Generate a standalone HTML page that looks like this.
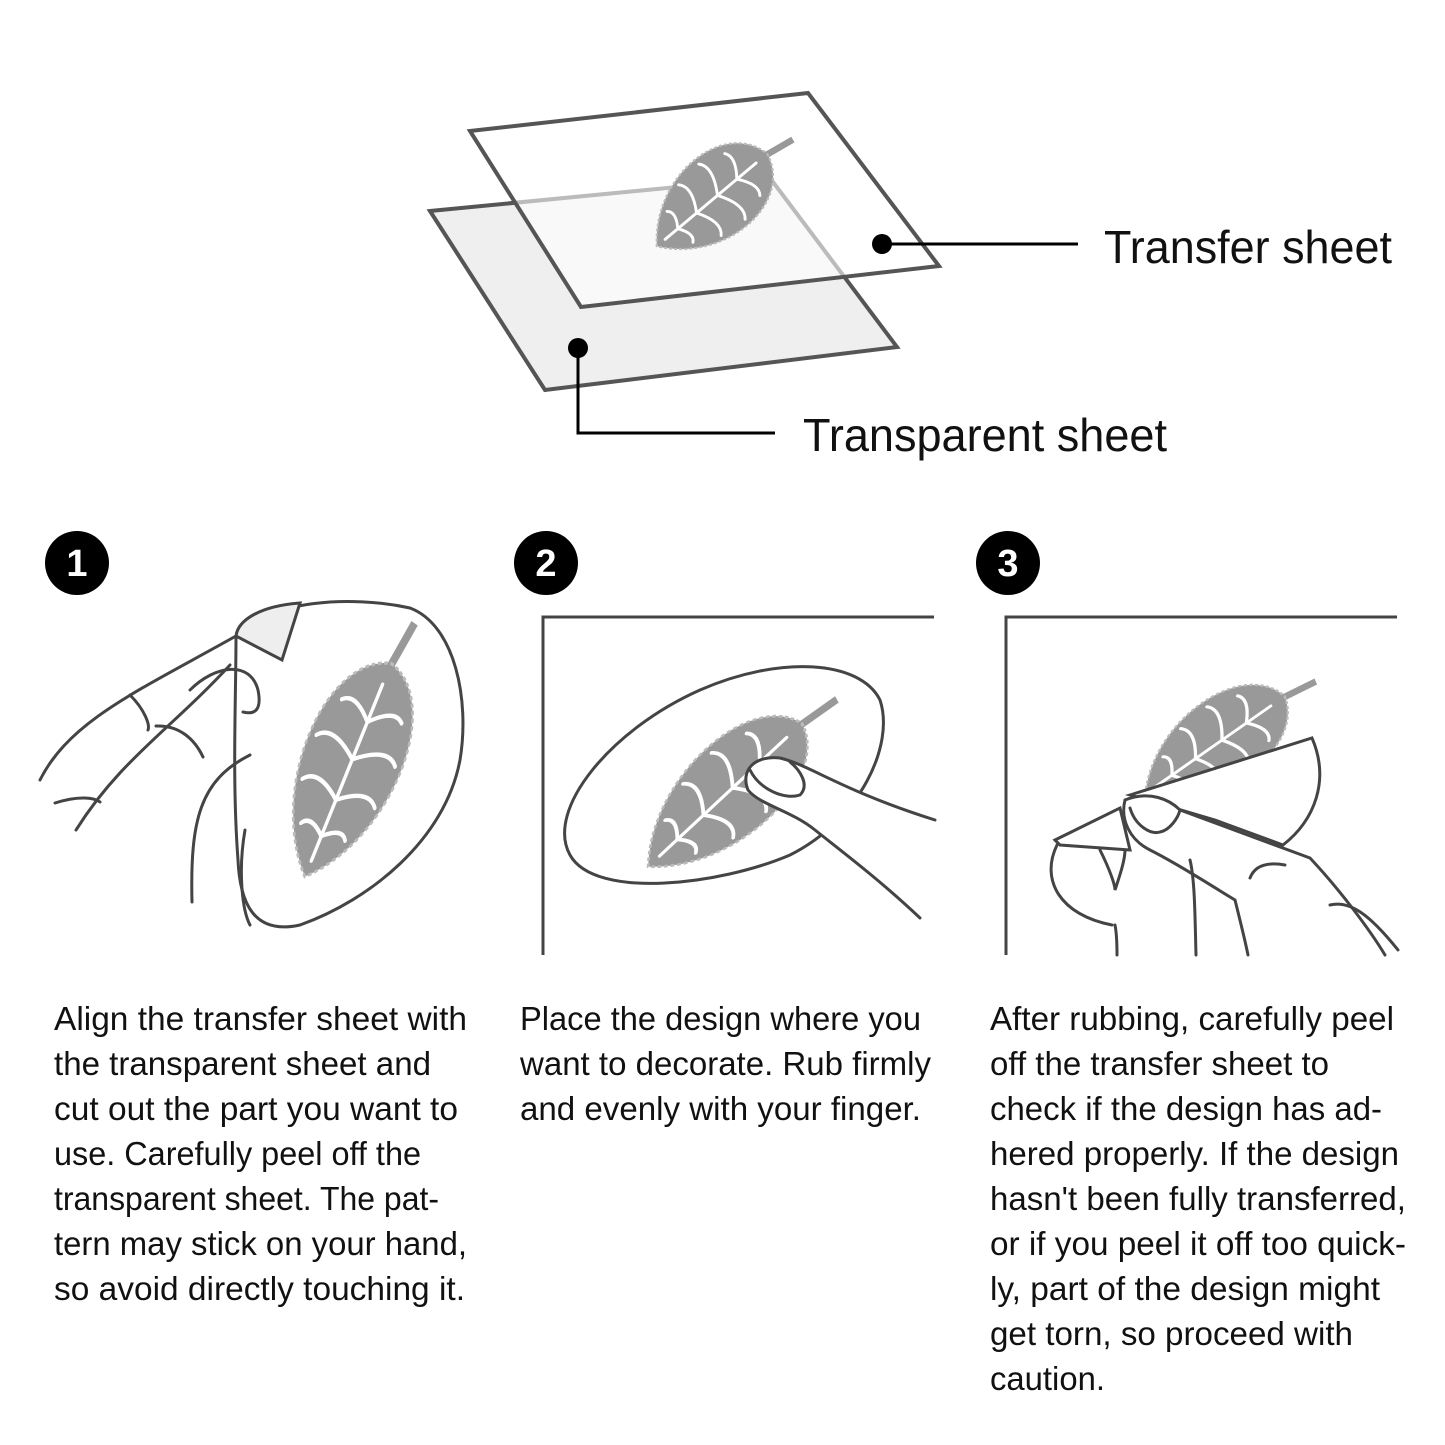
<!DOCTYPE html>
<html><head><meta charset="utf-8"><style>
html,body{margin:0;padding:0;background:#fff;}
svg{display:block;}
text{font-family:"Liberation Sans",sans-serif;fill:#111;}
</style></head><body>
<svg width="1445" height="1445" viewBox="0 0 1445 1445" xmlns="http://www.w3.org/2000/svg">
<defs>
<g id="leaf">
  <line x1="0" y1="-95" x2="8" y2="-140" stroke="#999" stroke-width="9"/>
  <path d="M0,-100 C75,-85 80,40 0,100 C-80,40 -75,-85 0,-100 Z" fill="#999" stroke="#bbb" stroke-width="3" stroke-dasharray="4 3"/>
  <g stroke="#fff" stroke-width="4" fill="none" stroke-linecap="round">
    <path d="M0,-80 L0,85"/>
    <path d="M0,-45 Q-25,-65 -38,-55"/><path d="M0,-45 Q25,-65 38,-55"/>
    <path d="M0,-10 Q-35,-32 -50,-18"/><path d="M0,-10 Q35,-32 50,-18"/>
    <path d="M0,28 Q-32,8 -46,22"/><path d="M0,28 Q32,8 46,22"/>
    <path d="M0,62 Q-20,48 -28,58"/><path d="M0,62 Q20,48 28,58"/>
  </g>
</g>
</defs>

<!-- top diagram -->
<polygon points="430,211 770,178 897,347 545,390" fill="#efefef" stroke="#555" stroke-width="4"/>
<polygon points="470,131 808,93 939,266 581,307" fill="rgba(255,255,255,0.6)" stroke="#555" stroke-width="4"/>
<use href="#leaf" transform="translate(712,200) rotate(50) scale(0.72,0.72)"/>
<circle cx="882" cy="244" r="10" fill="#000"/>
<line x1="882" y1="244" x2="1078" y2="244" stroke="#000" stroke-width="3"/>
<circle cx="578" cy="348" r="10" fill="#000"/>
<polyline points="578,348 578,433 775,433" fill="none" stroke="#000" stroke-width="3"/>
<text x="1104" y="263" font-size="46" textLength="288" lengthAdjust="spacingAndGlyphs">Transfer sheet</text>
<text x="803" y="451" font-size="46" textLength="364" lengthAdjust="spacingAndGlyphs">Transparent sheet</text>

<!-- numbers -->
<g font-weight="bold" font-size="38" text-anchor="middle">
<circle cx="77" cy="563" r="32" fill="#000"/><text x="77" y="576" style="fill:#fff">1</text>
<circle cx="546" cy="563" r="32" fill="#000"/><text x="546" y="576" style="fill:#fff">2</text>
<circle cx="1008" cy="563" r="32" fill="#000"/><text x="1008" y="576" style="fill:#fff">3</text>
</g>

<!-- panel 1 -->
<g fill="none" stroke="#444" stroke-width="3" stroke-linecap="round">
<path d="M236,636 C270,600 350,595 410,608 C455,625 470,700 460,760 C445,840 370,900 300,925 C255,935 240,905 238,860 C232,780 236,700 236,636 Z" fill="#fff"/>
<path d="M236,636 C238,620 260,606 300,603 L282,660 Z" fill="#eee"/>
<path d="M40,780 C70,720 140,690 236,636"/>
<path d="M76,830 C120,760 170,730 230,665"/>
<path d="M190,690 C215,665 250,660 258,690 C262,710 255,715 243,712"/>
<path d="M130,695 C145,710 150,725 148,730"/>
<path d="M156,726 C180,725 195,740 203,757"/>
<path d="M55,803 C80,795 95,798 100,802"/>
<path d="M192,902 C190,820 200,780 250,755"/>
<path d="M245,830 C238,870 242,910 250,925"/>
</g>
<use href="#leaf" transform="translate(348,770) rotate(22) scale(0.85,1.15)"/>

<!-- panel 2 -->
<polyline points="543,955 543,617 934,617" fill="none" stroke="#444" stroke-width="3"/>
<g fill="none" stroke="#444" stroke-width="3" stroke-linecap="round">
<path d="M570,855 C545,810 610,730 700,690 C780,655 860,660 880,700 C895,745 860,820 790,855 C720,885 595,900 570,855 Z" fill="#fff"/>
</g>
<use href="#leaf" transform="translate(725,795) rotate(47) scale(0.8,1.05)"/>
<g fill="none" stroke="#444" stroke-width="3" stroke-linecap="round">
<path d="M920,918 C880,880 840,850 815,830 C790,810 760,805 748,790 C740,770 755,755 780,758 C810,765 840,790 935,820" fill="#fff"/>
<path d="M750,770 C760,790 785,800 800,795 C810,785 800,770 790,762"/>
</g>

<!-- panel 3 -->
<polyline points="1006,955 1006,617 1397,617" fill="none" stroke="#444" stroke-width="3"/>
<use href="#leaf" transform="translate(1215,745) rotate(55) scale(0.72,0.85)"/>
<g fill="none" stroke="#444" stroke-width="3" stroke-linecap="round">
<path d="M1130,795 L1312,738 C1330,780 1315,820 1283,845 L1215,820 Z" fill="#fff"/>
<path d="M1055,840 L1120,808 L1130,850 L1060,845 Z" fill="#fff"/>
<path d="M1057,845 C1040,880 1060,915 1112,925"/>
<path d="M1100,850 C1110,870 1115,885 1115,890 C1120,875 1125,860 1125,850"/>
<path d="M1125,800 C1150,790 1170,800 1180,810 L1310,858 C1340,890 1370,930 1385,955" fill="#fff"/>
<path d="M1125,800 C1120,820 1130,840 1150,850 C1180,865 1210,885 1235,900 C1240,920 1245,940 1248,955"/>
<path d="M1130,808 C1135,825 1150,835 1160,832 C1170,830 1178,818 1180,810"/>
<path d="M1190,860 C1195,880 1195,920 1196,955"/>
<path d="M1250,878 C1255,865 1268,862 1285,865"/>
<path d="M1330,905 C1350,900 1370,915 1398,950"/>
<path d="M1115,925 C1117,935 1117,945 1117,955"/>
</g>

<!-- texts -->
<g font-size="33">
<text x="54" y="1030" textLength="413" lengthAdjust="spacingAndGlyphs">Align the transfer sheet with</text>
<text x="54" y="1075" textLength="377" lengthAdjust="spacingAndGlyphs">the transparent sheet and</text>
<text x="54" y="1120" textLength="404" lengthAdjust="spacingAndGlyphs">cut out the part you want to</text>
<text x="54" y="1165" textLength="367" lengthAdjust="spacingAndGlyphs">use. Carefully peel off the</text>
<text x="54" y="1210" textLength="385" lengthAdjust="spacingAndGlyphs">transparent sheet. The pat-</text>
<text x="54" y="1255" textLength="413" lengthAdjust="spacingAndGlyphs">tern may stick on your hand,</text>
<text x="54" y="1300" textLength="411" lengthAdjust="spacingAndGlyphs">so avoid directly touching it.</text>

<text x="520" y="1030" textLength="401" lengthAdjust="spacingAndGlyphs">Place the design where you</text>
<text x="520" y="1075" textLength="411" lengthAdjust="spacingAndGlyphs">want to decorate. Rub firmly</text>
<text x="520" y="1120" textLength="401" lengthAdjust="spacingAndGlyphs">and evenly with your finger.</text>

<text x="990" y="1030" textLength="404" lengthAdjust="spacingAndGlyphs">After rubbing, carefully peel</text>
<text x="990" y="1075" textLength="339" lengthAdjust="spacingAndGlyphs">off the transfer sheet to</text>
<text x="990" y="1120" textLength="392" lengthAdjust="spacingAndGlyphs">check if the design has ad-</text>
<text x="990" y="1165" textLength="409" lengthAdjust="spacingAndGlyphs">hered properly. If the design</text>
<text x="990" y="1210" textLength="416" lengthAdjust="spacingAndGlyphs">hasn't been fully transferred,</text>
<text x="990" y="1255" textLength="416" lengthAdjust="spacingAndGlyphs">or if you peel it off too quick-</text>
<text x="990" y="1300" textLength="390" lengthAdjust="spacingAndGlyphs">ly, part of the design might</text>
<text x="990" y="1345" textLength="363" lengthAdjust="spacingAndGlyphs">get torn, so proceed with</text>
<text x="990" y="1390" textLength="115" lengthAdjust="spacingAndGlyphs">caution.</text>
</g>
</svg>
</body></html>
